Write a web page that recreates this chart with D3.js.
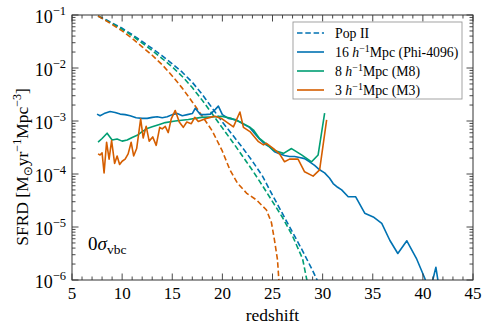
<!DOCTYPE html>
<html><head><meta charset="utf-8">
<script src="https://cdn.jsdelivr.net/npm/d3@7"></script>
<style>
body{margin:0;background:#fff;}
text{font-family:"Liberation Serif","DejaVu Serif",serif;fill:#000;}
</style></head>
<body>
<svg id="c" width="488" height="330"></svg>
<script>
// ---------- data ----------
const xTicks = [5,10,15,20,25,30,35,40,45];
const yTickExps = [-6,-5,-4,-3,-2,-1];

// Pop II (dashed)
const popZ16 = [7.6,8.5,10,11,12,13,14,15,16,17,18,19,20,21,22,23,24,25,26,27,28,29,29.5];
const popV16 = [0.0955,0.0794,0.0562,0.0427,0.0316,0.0234,0.0170,0.0120,0.00832,0.00537,0.00316,0.00174,9.55e-4,5.50e-4,3.16e-4,1.74e-4,9.12e-5,3.98e-5,1.78e-5,7.94e-6,3.55e-6,1.51e-6,9.5e-7];
const popZ8 = [7.6,8.5,10,11,12,13,14,15,16,17,18,19,20,21,22,23,24,25,26,27,28,28.45];
const popV8 = [0.0955,0.0776,0.0537,0.0407,0.0295,0.0214,0.0151,0.0105,0.00692,0.00427,0.00245,0.00135,7.41e-4,4.07e-4,2.19e-4,1.17e-4,6.03e-5,3.02e-5,1.51e-5,6.76e-6,2.51e-6,9.55e-7];
const popZ3 = [7.6,8.5,10,11,12,13,14,15,16,17,18,19,20,20.75,21.5,22.4,23.4,24.4,24.9,25.2,25.5,25.65];
const popV3 = [0.0955,0.0759,0.0501,0.0363,0.0251,0.0174,0.0115,0.00708,0.00417,0.00229,0.00123,6.46e-4,2.69e-4,1.20e-4,6.76e-5,4.37e-5,3.24e-5,2.09e-5,1.20e-5,5.62e-6,2.40e-6,8.9e-7];

// 16 h^-1 Mpc (Phi-4096)
const z16 = [7.5,7.8,8.2,8.8,9.3,9.8,10.3,10.8,11.4,12.0,12.5,13.0,13.5,14.0,14.5,15.0,15.5,16.0,16.5,17.0,17.3,17.8,18.3,18.8,19.3,19.6,20.0,20.6,21.4,22.0,22.7,23.2,23.7,24.2,24.7,25.2,25.7,26.2,26.7,27.2,27.7,28.2,28.7,29.2,29.7,30.2,30.7,31.05,31.5,31.9,32.55,33.3,34.2,35.05,35.9,36.7,37.5,38.4,39.35,40.2,40.6,41.3,41.9];
const v16 = [1.35e-3,1.26e-3,1.38e-3,1.51e-3,1.45e-3,1.35e-3,1.32e-3,1.26e-3,1.15e-3,1.12e-3,1.12e-3,1.17e-3,1.20e-3,1.15e-3,1.20e-3,1.32e-3,1.38e-3,1.26e-3,1.32e-3,1.38e-3,1.74e-3,1.32e-3,1.32e-3,1.35e-3,1.66e-3,1.91e-3,1.32e-3,1.12e-3,1.05e-3,8.91e-4,7.59e-4,5.89e-4,4.57e-4,3.72e-4,3.24e-4,2.63e-4,2.40e-4,2.24e-4,2.14e-4,2.14e-4,2.04e-4,1.95e-4,1.70e-4,1.45e-4,1.20e-4,1.05e-4,8.32e-5,6.61e-5,5.62e-5,5.01e-5,3.72e-5,3.72e-5,1.82e-5,1.55e-5,1.17e-5,5.62e-6,3.16e-6,5.50e-6,2.57e-6,1.07e-6,5.0e-7,1.74e-6,3.2e-7];

// 8 h^-1 Mpc (M8)
const z8 = [7.6,8.0,8.5,9.0,9.5,10.0,10.5,11.0,11.5,12.0,12.5,13.0,13.8,14.3,15.3,16.6,17.9,19.25,19.9,20.9,21.9,22.7,23.1,23.7,24.1,25.1,26.1,26.9,27.9,28.9,29.55,30.2];
const v8 = [3.98e-4,4.68e-4,5.89e-4,4.37e-4,4.57e-4,4.17e-4,4.37e-4,4.90e-4,5.37e-4,6.31e-4,7.24e-4,7.76e-4,8.71e-4,9.33e-4,1.00e-3,1.07e-3,1.17e-3,1.20e-3,1.23e-3,1.12e-3,9.33e-4,7.76e-4,6.76e-4,4.68e-4,4.07e-4,2.82e-4,2.45e-4,3.02e-4,2.29e-4,1.70e-4,2.29e-4,1.41e-3];

// 3 h^-1 Mpc (M3)
const z3 = [7.6,7.8,8.0,8.2,8.45,8.7,8.95,9.25,9.5,9.75,10.0,10.3,10.6,10.9,11.15,11.45,11.85,12.1,12.4,12.7,13.05,13.4,13.75,14.0,14.3,14.6,14.9,15.3,15.7,16.1,16.45,16.9,17.25,17.6,18.3,18.8,19.25,19.9,20.5,21.1,21.75,22.1,22.75,23.6,24.1,24.4,25.1,25.7,26.2,26.7,27.55,28.2,29.05,29.7,30.4];
const v3 = [2.40e-4,2.29e-4,2.51e-4,1.05e-4,3.98e-4,1.91e-4,4.27e-4,1.58e-4,2.19e-4,1.51e-4,1.74e-4,1.91e-4,2.40e-4,3.98e-4,2.19e-4,3.02e-4,1.10e-3,4.79e-4,7.94e-4,4.17e-4,5.01e-4,3.47e-4,7.59e-4,7.08e-4,7.94e-4,6.03e-4,1.10e-3,1.58e-3,9.55e-4,7.59e-4,9.55e-4,8.91e-4,1.17e-3,9.77e-4,1.10e-3,1.17e-3,1.23e-3,1.12e-3,9.33e-4,7.76e-4,1.48e-3,7.59e-4,6.31e-4,4.07e-4,3.55e-4,3.80e-4,3.02e-4,2.40e-4,1.70e-4,1.91e-4,1.91e-4,1.10e-4,9.12e-5,1.20e-4,1.05e-3];

const colors = {b:"#0072B2", g:"#009E73", o:"#D55E00"};

// ---------- layout ----------
const L=72, R=473, T=15, B=280;
const svg = d3.select("#c");
const x = d3.scaleLinear().domain([5,45]).range([L,R]);
const y = d3.scaleLog().domain([1e-6,1e-1]).range([B,T]);

svg.append("defs").append("clipPath").attr("id","clip")
  .append("rect").attr("x",L).attr("y",T).attr("width",R-L).attr("height",B-T);

const plot = svg.append("g").attr("clip-path","url(#clip)");
const line = d3.line().x(d=>x(d[0])).y(d=>y(d[1]));
const zip = (a,b)=>a.map((v,i)=>[v,b[i]]);

function draw(zs, vs, col, dashed){
  plot.append("path").datum(zip(zs,vs))
    .attr("d",line).attr("fill","none").attr("stroke",col)
    .attr("stroke-width",1.6).attr("stroke-linejoin","round")
    .attr("stroke-dasharray", dashed ? "5.5,2.8" : null);
}
draw(popZ16, popV16, colors.b, true);
draw(popZ8, popV8, colors.g, true);
draw(popZ3, popV3, colors.o, true);
draw(z16, v16, colors.b, false);
draw(z8, v8, colors.g, false);
draw(z3, v3, colors.o, false);

// ---------- axes ----------
const axCol = "#333";
const ax = svg.append("g");
function tick(x1,y1,x2,y2){ ax.append("line").attr("x1",x1).attr("y1",y1).attr("x2",x2).attr("y2",y2).attr("stroke",axCol).attr("stroke-width",0.9); }
for(let v=5; v<=45; v++){
  const major = v%5===0, len = major?6.5:3.5, px=x(v);
  tick(px,B,px,B-len); tick(px,T,px,T+len);
}
for(let e=-6; e<=-1; e++){
  for(let k=1;k<=9;k++){
    const val = k*Math.pow(10,e);
    if(val>0.1+1e-12) break;
    const py=y(val), major=(k===1), len=major?6.5:3.5;
    tick(L,py,L+len,py); tick(R,py,R-len,py);
  }
}
ax.append("rect").attr("x",L).attr("y",T).attr("width",R-L).attr("height",B-T)
  .attr("fill","none").attr("stroke",axCol).attr("stroke-width",1);

// x tick labels
svg.append("g").selectAll("text").data(xTicks).join("text")
  .attr("x",d=>x(d)).attr("y",299).attr("text-anchor","middle")
  .attr("font-size",17).text(d=>d);
// y tick labels
const yl = svg.append("g").selectAll("text").data(yTickExps).join("text")
  .attr("x",66).attr("y",d=>y(Math.pow(10,d))+8).attr("text-anchor","end").attr("font-size",18);
yl.append("tspan").text("10");
yl.append("tspan").attr("font-size",12.5).attr("dy",-8).text(d=>"\u2212"+(-d));

// axis titles
svg.append("text").attr("x",(L+R)/2).attr("y",321).attr("text-anchor","middle")
  .attr("font-size",17.5).text("redshift");

const yt = svg.append("text").attr("transform","translate(28,167) rotate(-90)")
  .attr("text-anchor","middle").attr("font-size",17.5);
yt.append("tspan").text("SFRD [M");
yt.append("tspan").attr("font-size",12).attr("dy",4).attr("font-family","DejaVu Sans").text("\u2299");
yt.append("tspan").attr("dy",-4).text("yr");
yt.append("tspan").attr("font-size",12).attr("dy",-7).text("\u22121");
yt.append("tspan").attr("dy",7).text("Mpc");
yt.append("tspan").attr("font-size",12).attr("dy",-7).text("\u22123");
yt.append("tspan").attr("dy",7).text("]");

// annotation
const an = svg.append("text").attr("x",88).attr("y",250).attr("font-size",19);
an.append("tspan").text("0");
an.append("tspan").attr("font-style","italic").text("\u03C3");
an.append("tspan").attr("font-size",13.5).attr("dy",4).text("vbc");

// ---------- legend ----------
const lg = svg.append("g");
lg.append("rect").attr("x",293).attr("y",22).attr("width",169).attr("height",77)
  .attr("fill","#fff").attr("stroke","#999").attr("stroke-width",0.9);
const legItems = [
  {c:colors.b, d:true, parts:[["Pop II"]]},
  {c:colors.b, d:false, parts:[["16 "],["h","i"],["\u22121","sup"],["Mpc (Phi-4096)","back"]]},
  {c:colors.g, d:false, parts:[["8 "],["h","i"],["\u22121","sup"],["Mpc (M8)","back"]]},
  {c:colors.o, d:false, parts:[["3 "],["h","i"],["\u22121","sup"],["Mpc (M3)","back"]]}
];
legItems.forEach((it,i)=>{
  const yy = 33 + i*19;
  lg.append("line").attr("x1",297).attr("x2",324).attr("y1",yy).attr("y2",yy)
    .attr("stroke",it.c).attr("stroke-width",1.6).attr("stroke-dasharray",it.d?"5.5,2.8":null);
  const t = lg.append("text").attr("x",335).attr("y",yy+4.5).attr("font-size",13.8);
  it.parts.forEach(p=>{
    const s = t.append("tspan").text(p[0]);
    if(p[1]==="i") s.attr("font-style","italic");
    if(p[1]==="sup") s.attr("font-size",10).attr("dy",-5);
    if(p[1]==="back") s.attr("dy",5);
  });
});
</script>
</body></html>
